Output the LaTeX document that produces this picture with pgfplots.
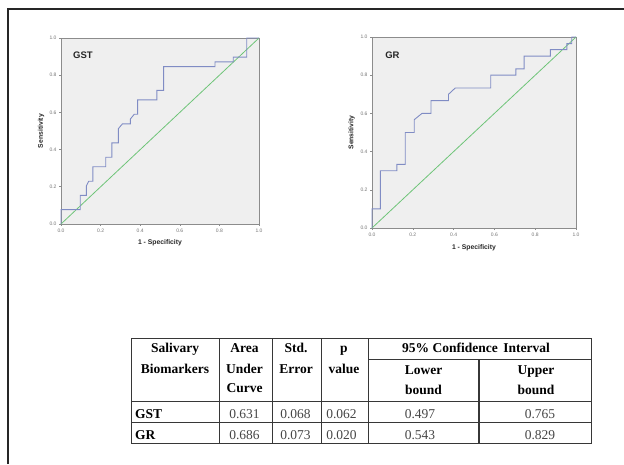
\documentclass[border=0pt]{standalone}
\usepackage{pgfplots}
\pgfplotsset{compat=1.18}
\usepackage{fontspec}
\setmainfont{Liberation Serif}
\newfontfamily\arial{Liberation Sans}
\definecolor{bggray}{RGB}{239,239,239}
\definecolor{axgray}{RGB}{140,140,140}
\definecolor{roc}{RGB}{128,140,196}
\definecolor{ref}{RGB}{110,196,120}
\definecolor{tline}{RGB}{55,55,55}
\definecolor{numc}{RGB}{70,70,70}

\pgfplotsset{
  rocaxis/.style={
    scale only axis,
    xmin=0,xmax=1,ymin=0,ymax=1,
    axis background/.style={fill=bggray},
    axis line style={draw=axgray, line width=0.9pt},
    xtick={0,0.2,0.4,0.6,0.8,1}, ytick={0,0.2,0.4,0.6,0.8,1},
    xticklabels={0.0,0.2,0.4,0.6,0.8,1.0},
    yticklabels={0.0,0.2,0.4,0.6,0.8,1.0},
    tick align=outside, tick pos=left, major tick length=2pt,
    tick style={draw=axgray, line width=0.6pt},
    tick label style={font=\arial\fontsize{5}{5}\selectfont, text=black!55},
    xticklabel style={yshift=1pt},
    yticklabel style={xshift=1pt},
    xlabel={1 - Specificity}, ylabel={Sensitivity},
    label style={font=\arial\bfseries\fontsize{6.8}{7}\selectfont, text=black!85},
    clip=false,
  }
}

\begin{document}
\begin{tikzpicture}[x=1pt,y=1pt]
\path[use as bounding box] (0,0) rectangle (624,464);
% outer frame (top and left)
\draw[black!85, line width=2.6pt] (8,0) -- (8,455) -- (624,455);

% GST ROC
\begin{axis}[rocaxis, at={(61pt,240pt)}, anchor=south west,
  width=198pt, height=186pt,
  xlabel style={at={(axis description cs:0.5,-0.1)}, anchor=center},
  ylabel style={at={(axis description cs:-0.101,0.5)}, anchor=center}]
\addplot[ref, line width=0.8pt] coordinates {(0,0) (1,1)};
\addplot[roc, line width=0.9pt] coordinates {
(0,0) (0,0.077) (0.097,0.077) (0.097,0.154) (0.128,0.154) (0.128,0.205)
(0.14,0.23) (0.161,0.23) (0.161,0.308) (0.226,0.308) (0.226,0.359)
(0.257,0.359) (0.257,0.436) (0.29,0.436) (0.29,0.513) (0.31,0.538)
(0.35,0.538) (0.35,0.564) (0.37,0.59) (0.387,0.59) (0.387,0.667)
(0.484,0.667) (0.484,0.718) (0.518,0.718) (0.518,0.846) (0.778,0.846)
(0.778,0.872) (0.87,0.872) (0.87,0.897) (0.938,0.897) (0.938,1) (1,1)};
\node[font=\arial\bfseries\fontsize{9.5}{10}\selectfont, text=black!85]
  at (axis description cs:0.111,0.909) {GST};
\end{axis}

% GR ROC
\begin{axis}[rocaxis, at={(372pt,236pt)}, anchor=south west,
  width=204pt, height=191pt,
  xlabel style={at={(axis description cs:0.5,-0.103)}, anchor=center},
  ylabel style={at={(axis description cs:-0.1,0.5)}, anchor=center}]
\addplot[ref, line width=0.8pt] coordinates {(0,0) (1,1)};
\addplot[roc, line width=0.9pt] coordinates {
(0,0) (0,0.1) (0.041,0.1) (0.041,0.3) (0.122,0.3) (0.122,0.333)
(0.163,0.333) (0.163,0.5) (0.207,0.5) (0.207,0.567) (0.245,0.6)
(0.289,0.6) (0.289,0.667) (0.375,0.667) (0.375,0.7) (0.408,0.733)
(0.582,0.733) (0.582,0.8) (0.705,0.8) (0.705,0.833) (0.746,0.833)
(0.746,0.9) (0.874,0.9) (0.874,0.934) (0.955,0.934) (0.955,0.965)
(0.979,0.965) (0.979,1) (1,1)};
\node[font=\arial\bfseries\fontsize{9.5}{10}\selectfont, text=black!85]
  at (axis description cs:0.1,0.906) {GR};
\end{axis}

% Table (image y converted: Y = 464 - y)
\begin{scope}[line width=1.3pt]
\draw[tline] (131.3,125.7) -- (591.7,125.7);   % top 338.3
\draw[tline] (368.3,104.5) -- (591.7,104.5);   % CI sub 359.5
\draw[tline] (131.3,62.5) -- (591.7,62.5);     % header bottom 401.5
\draw[tline] (131.3,41.2) -- (591.7,41.2);     % 422.8
\draw[tline] (131.3,20.7) -- (591.7,20.7);     % 443.3
\foreach \x in {131.3,219.5,272.3,321.3,368.3,591.7}
  \draw[tline] (\x,125.7) -- (\x,20.7);
\draw[tline] (479,104.5) -- (479,20.7);
\end{scope}

\begin{scope}[every node/.style={font=\bfseries\fontsize{13.5}{14}\selectfont, inner sep=0pt, anchor=base}]
\node at (175,111.5) {Salivary};
\node at (175,91) {Biomarkers};
\node at (244.5,111.5) {Area};
\node at (244.5,91) {Under};
\node at (244.5,71.5) {Curve};
\node at (296,111.5) {Std.};
\node at (296,91) {Error};
\node at (344,111.5) {p};
\node at (344,91) {value};
\node at (476,111.5) {95\% Confidence\ \,Interval};
\node at (423.5,89.5) {Lower};
\node at (423.5,70) {bound};
\node at (536,89.5) {Upper};
\node at (536,70) {bound};
\node[anchor=base west] at (135,45.5) {GST};
\node[anchor=base west] at (135,25) {GR};
\end{scope}

\begin{scope}[every node/.style={font=\fontsize{13.5}{14}\selectfont, text=numc, inner sep=0pt, anchor=base}]
\node at (244.5,45.5) {0.631};
\node at (295.5,45.5) {0.068};
\node at (341.5,45.5) {0.062};
\node at (420,45.5) {0.497};
\node at (540,45.5) {0.765};
\node at (244.5,25) {0.686};
\node at (295.5,25) {0.073};
\node at (341.5,25) {0.020};
\node at (420,25) {0.543};
\node at (540,25) {0.829};
\end{scope}
\end{tikzpicture}
\end{document}
